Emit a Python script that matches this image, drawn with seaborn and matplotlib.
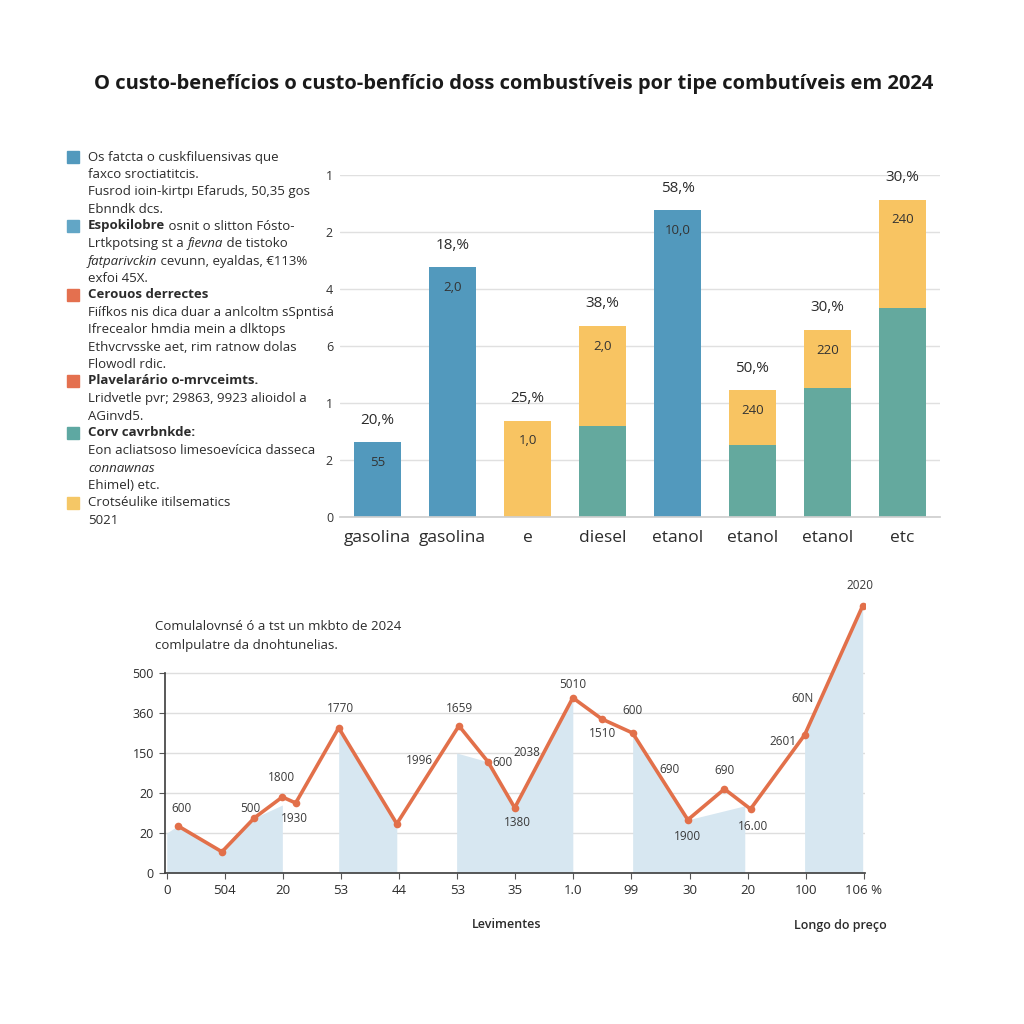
import matplotlib
matplotlib.use("Agg")
import matplotlib.pyplot as plt
import numpy as np
import pandas as pd
import seaborn as sns

# --- top chart: cost-benefit per fuel ---
bar_labels = ["gasolina", "gasolina", "e", "diesel", "etanol", "etanol", "etanol", "etc"]
base_values = [1.31, 4.38, 0.0, 1.59, 5.38, 1.26, 2.27, 3.66]
base_groups = ["azul", "azul", "azul", "verde", "azul", "verde", "verde", "verde"]
top_values = [0.0, 0.0, 1.69, 1.76, 0.0, 0.96, 1.01, 1.91]
pct_labels = ["20,%", "18,%", "25,%", "38,%", "58,%", "50,%", "30,%", "30,%"]
inner_labels = ["55", "2,0", "1,0", "2,0", "10,0", "240", "220", "240"]
bar_yticks = [0, 1, 2, 3, 4, 5, 6]
bar_yticklabels = ["0", "2", "1", "6", "4", "2", "1"]

# --- bottom chart: price evolution ---
line_x = [0.19, 0.95, 1.51, 1.99, 2.22, 2.96, 3.96, 5.03, 5.53, 5.99,
          6.99, 7.49, 8.02, 8.97, 9.60, 10.05, 10.98, 11.98]
line_y = [118, 53, 138, 190, 175, 363, 123, 368, 278, 163,
          438, 385, 350, 133, 210, 160, 345, 668]
shade_bands = [
    ([0.0, 0.19, 0.95, 1.51, 1.99], [100, 118, 53, 138, 170]),
    ([2.96, 3.96], [363, 123]),
    ([4.99, 5.53, 5.99, 6.99], [300, 278, 163, 438]),
    ([8.02, 8.97, 9.95], [350, 133, 168]),
    ([10.98, 11.98], [345, 668]),
]
point_texts = ["600", "500", "1800", "1930", "1770", "1996", "1659", "600", "2038", "1380",
               "5010", "1510", "600", "690", "690", "1900", "16.00", "2601", "60N", "2020"]
point_text_x = [0.26, 1.43, 1.98, 2.19, 2.99, 4.35, 5.04, 5.78, 6.20, 6.04,
                6.99, 7.50, 8.02, 8.66, 9.60, 8.97, 10.09, 10.60, 10.95, 11.93]
point_text_y = [162, 162, 238, 135, 410, 280, 412, 275, 302, 125,
                472, 348, 405, 258, 255, 90, 115, 328, 435, 718]
line_xticklabels = ["0", "504", "20", "53", "44", "53", "35", "1.0", "99", "30", "20", "100", "106 %"]
line_yticks = [0, 100, 200, 300, 400, 500]
line_yticklabels = ["0", "20", "20", "150", "360", "500"]

legend_entries = [
    ("#5299bd", [[("Os fatcta o cuskfiluensivas que", "normal", "normal")],
                 [("faxco sroctiatitcis.", "normal", "normal")],
                 [("Fusrod ioin-kirtpı Efaruds, 50,35 gos", "normal", "normal")],
                 [("Ebnndk dcs.", "normal", "normal")]]),
    ("#62a6c6", [[("Espokilobre", "bold", "normal"), (" osnit o slitton Fósto-", "normal", "normal")],
                 [("Lrtkpotsing st a ", "normal", "normal"), ("fievna", "normal", "italic"),
                  (" de tistoko", "normal", "normal")],
                 [("fatparivckin", "normal", "italic"), (" cevunn, eyaldas, €113%", "normal", "normal")],
                 [("exfoi 45X.", "normal", "normal")]]),
    ("#e4704f", [[("Cerouos derrectes", "bold", "normal")],
                 [("Fiífkos nis dica duar a anlcoltm sSpntisá", "normal", "normal")],
                 [("Ifrecealor hmdia mein a dlktops", "normal", "normal")],
                 [("Ethvcrvsske aet, rim ratnow dolas", "normal", "normal")],
                 [("Flowodl rdic.", "normal", "normal")]]),
    ("#e4704f", [[("Plavelarário o-mrvceimts.", "bold", "normal")],
                 [("Lridvetle pvr; 29863, 9923 alioidol a", "normal", "normal")],
                 [("AGinvd5.", "normal", "normal")]]),
    ("#5ea8a2", [[("Corv cavrbnkde:", "bold", "normal")],
                 [("Eon acliatsoso limesoevícica dasseca", "normal", "normal")],
                 [("connawnas", "normal", "italic")],
                 [("Ehimel) etc.", "normal", "normal")]]),
    ("#f5c766", [[("Crotséulike itilsematics", "normal", "normal")],
                 [("5021", "normal", "normal")]]),
]
legend_y_starts = [157, 226, 295, 381, 433, 503]

blue = "#5299bd"
teal = "#64a99e"
yellow = "#f8c462"
orange = "#e2704a"
shade = "#d7e7f1"
text_dark = "#2b2b2b"

sns.set_theme(style="white")
plt.rcParams["font.family"] = ["Open Sans", "DejaVu Sans"]

W = H = 1024
fig = plt.figure(figsize=(10.24, 10.24), dpi=100)
fig.patch.set_facecolor("white")


def fx(x):
    return x / W


def fy(y):
    return 1 - y / H


fig.text(0.502, fy(84),
         "O custo-benefícios o custo-benfício doss combustíveis por tipe combutíveis em 2024",
         ha="center", va="center", fontsize=14.5, fontweight="bold", color="#1a1a1a")

# top bar chart
ax1 = fig.add_axes([fx(340), fy(517), 600 / W, 342 / H])
idx = list(range(len(bar_labels)))
totals = [b + t for b, t in zip(base_values, top_values)]
group_colors = {"azul": blue, "verde": teal}
sns.barplot(x=idx, y=totals, color=yellow, width=0.62, saturation=1, linewidth=0, ax=ax1)
sns.barplot(x=idx, y=base_values, hue=idx, palette=[group_colors[g] for g in base_groups],
            width=0.62, saturation=1, linewidth=0, legend=False, dodge=False, ax=ax1)
ax1.set_ylim(0, 6)
ax1.set_xlim(-0.5, len(bar_labels) - 0.5)
ax1.set_yticks(bar_yticks)
ax1.set_yticklabels(bar_yticklabels, fontsize=9, color="#333333")
ax1.set_xticks(idx)
ax1.set_xticklabels(bar_labels, fontsize=12.5, color=text_dark)
ax1.tick_params(axis="both", length=0)
ax1.tick_params(axis="x", pad=9)
ax1.tick_params(axis="y", pad=5)
ax1.yaxis.grid(True, color="#e0e0e0", linewidth=1)
ax1.set_axisbelow(True)
for side in ["top", "right", "left"]:
    ax1.spines[side].set_visible(False)
ax1.spines["bottom"].set_color("#cfcfcf")
for i, tot in enumerate(totals):
    ax1.annotate(pct_labels[i], (i, tot), xytext=(0, 16), textcoords="offset points",
                 ha="center", va="center", fontsize=11, color=text_dark)
    ax1.annotate(inner_labels[i], (i, tot), xytext=(0, -14.5), textcoords="offset points",
                 ha="center", va="center", fontsize=9.5, color="#333333")

# legend block on the left
renderer = fig.canvas.get_renderer()
for (color, lines), y0 in zip(legend_entries, legend_y_starts):
    fig.patches.append(plt.Rectangle((fx(67), fy(y0 + 6)), 12 / W, 12 / H,
                                     transform=fig.transFigure, color=color))
    for k, segments in enumerate(lines):
        xpos = 88
        ypos = y0 + k * 17.5
        for txt, weight, style in segments:
            t = fig.text(fx(xpos), fy(ypos), txt, ha="left", va="center", fontsize=9.5,
                         fontweight=weight, fontstyle=style, color=text_dark)
            xpos += t.get_window_extent(renderer).width

# bottom line chart
ax2 = fig.add_axes([fx(165), fy(873), 700 / W, 284 / H])
for bx, by in shade_bands:
    ax2.fill_between(bx, 0, by, color=shade, linewidth=0, zorder=1)
sns.lineplot(x=line_x, y=line_y, sort=False, color=orange, linewidth=2.6,
             marker="o", markersize=5.5, markeredgewidth=0, ax=ax2, zorder=3)
for txt, tx, ty in zip(point_texts, point_text_x, point_text_y):
    ax2.text(tx, ty, txt, ha="center", va="center", fontsize=8.5, color="#3a3a3a", zorder=4)
ax2.set_xlim(-0.03, 12.02)
ax2.set_ylim(0, 710)
ax2.set_xticks(range(len(line_xticklabels)))
ax2.set_xticklabels(line_xticklabels, fontsize=9.5, color=text_dark)
ax2.set_yticks(line_yticks)
ax2.set_yticklabels(line_yticklabels, fontsize=9, color=text_dark)
ax2.tick_params(axis="x", length=4, width=0.8, color="#555555", pad=4, bottom=True)
ax2.tick_params(axis="y", length=4, width=0.8, color="#555555", pad=4, left=True)
ax2.yaxis.grid(True, color="#dedede", linewidth=1)
ax2.set_axisbelow(True)
ax2.spines["top"].set_visible(False)
ax2.spines["right"].set_visible(False)
ax2.spines["left"].set_bounds(0, 500)
ax2.spines["left"].set_color("#444444")
ax2.spines["bottom"].set_color("#444444")
ax2.patch.set_alpha(0)

fig.text(fx(155), fy(627), "Comulalovnsé ó a tst un mkbto de 2024", ha="left", va="center",
         fontsize=9.5, color=text_dark)
fig.text(fx(155), fy(645), "comlpulatre da dnohtunelias.", ha="left", va="center",
         fontsize=9.5, color=text_dark)
fig.text(fx(507), fy(925), "Levimentes", ha="center", va="center", fontsize=9,
         fontweight="semibold", color=text_dark)
fig.text(fx(840), fy(925), "Longo do preço", ha="center", va="center", fontsize=9,
         fontweight="semibold", color=text_dark)

fig.savefig("out.png", dpi=100, facecolor="white")
